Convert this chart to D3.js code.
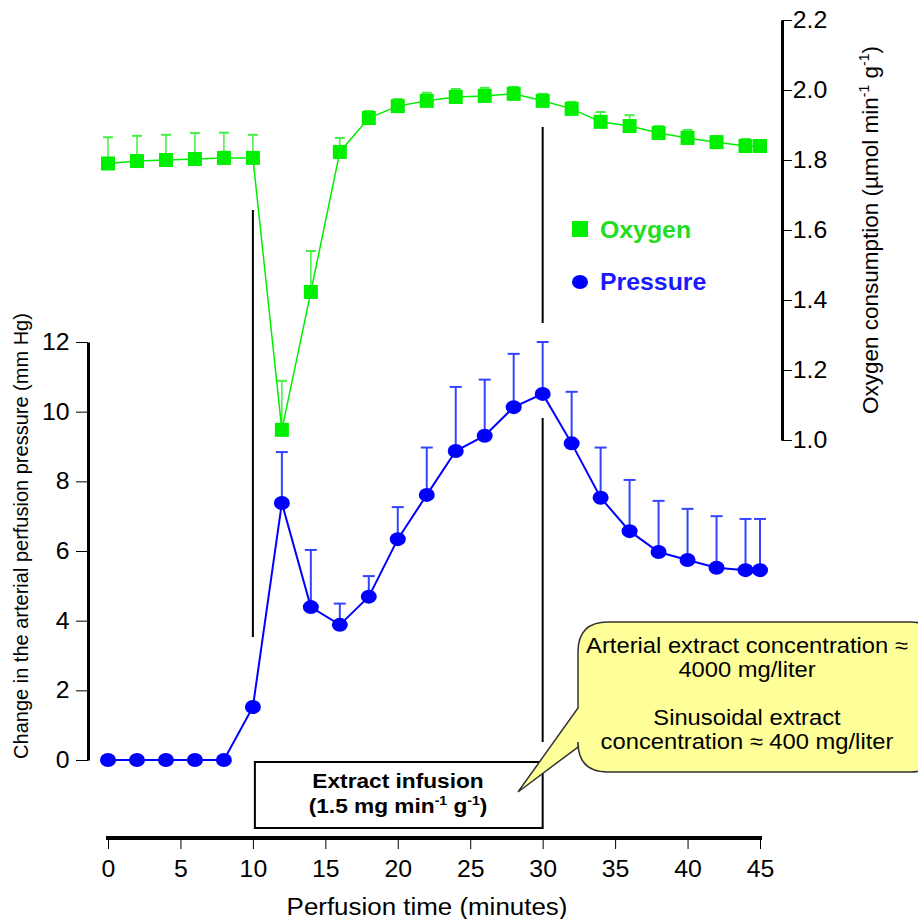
<!DOCTYPE html>
<html>
<head>
<meta charset="utf-8">
<script src="https://cdn.jsdelivr.net/npm/d3@7"></script>
<style>
  body { margin: 0; background: #fff; }
  text { font-family: "Liberation Sans", Arial, sans-serif; }
</style>
</head>
<body>
<div id="canvas"></div>
<script>
const width = 918;
const height = 919;

// perfusion time, minutes
const times = [0, 2, 4, 6, 8, 10, 12, 14, 16, 18, 20, 22, 24, 26, 28, 30, 32, 34, 36, 38, 40, 42, 44, 45];
// oxygen consumption (umol/min/g) and its SEM
const oxygen = [1.79, 1.797, 1.80, 1.803, 1.806, 1.806, 1.029, 1.423, 1.823, 1.92, 1.954, 1.969, 1.98, 1.983, 1.989, 1.969, 1.946, 1.909, 1.897, 1.877, 1.863, 1.851, 1.84, 1.84];
const oxygenErr = [0.075, 0.072, 0.072, 0.074, 0.072, 0.066, 0.14, 0.117, 0.04, 0.02, 0.02, 0.023, 0.023, 0.023, 0.02, 0.02, 0.02, 0.028, 0.031, 0.02, 0.023, 0.017, 0.02, 0.017];
// change in arterial perfusion pressure (mm Hg) and its SEM
const pressure = [0, 0, 0, 0, 0, 1.52, 7.38, 4.39, 3.88, 4.69, 6.34, 7.61, 8.87, 9.31, 10.13, 10.51, 9.09, 7.53, 6.57, 5.97, 5.74, 5.52, 5.45, 5.45];
const pressureErr = [0, 0, 0, 0, 0, 0, 1.46, 1.64, 0.61, 0.59, 0.92, 1.36, 1.84, 1.61, 1.53, 1.49, 1.48, 1.44, 1.47, 1.47, 1.47, 1.48, 1.47, 1.47];

const xTicks = [0, 5, 10, 15, 20, 25, 30, 35, 40, 45];
const pTicks = [0, 2, 4, 6, 8, 10, 12];
const oTicks = [1.0, 1.2, 1.4, 1.6, 1.8, 2.0, 2.2];

const infusionStart = 10;
const infusionEnd = 30;

const green = "#00ee00";
const blue = "#0000ff";
// the original type is a little wider than it is tall
const stretch = "scale(1.08,1)";

const svg = d3.select("#canvas")
    .append("svg")
    .attr("width", width)
    .attr("height", height);

const x = d3.scaleLinear().domain([0, 45]).range([108, 760]);
const yP = d3.scaleLinear().domain([0, 12]).range([760, 342]);
const yO = d3.scaleLinear().domain([1.0, 2.2]).range([440, 20]);

function label(px, py) {
    return svg.append("text").attr("transform", "translate(" + px + "," + py + ") " + stretch);
}

// x axis
const xAxis = svg.append("g")
    .attr("transform", "translate(0,838)")
    .call(d3.axisBottom(x).tickValues(xTicks).tickSize(11).tickPadding(12).tickSizeOuter(0));
xAxis.select(".domain").attr("stroke-width", 4).attr("d", "M106,0H762");
xAxis.selectAll(".tick line").attr("stroke-width", 1);
xAxis.selectAll(".tick text").attr("font-size", 23).attr("fill", "#000").attr("transform", stretch);

label(x(22.5) - 7, 915)
    .attr("text-anchor", "middle")
    .attr("font-size", 24)
    .text("Perfusion time (minutes)");

// left axis
const pAxis = svg.append("g")
    .attr("transform", "translate(88,0)")
    .call(d3.axisLeft(yP).tickValues(pTicks).tickSize(12).tickPadding(5).tickSizeOuter(0));
pAxis.select(".domain").attr("stroke-width", 3);
pAxis.selectAll(".tick line").attr("stroke-width", 1);
pAxis.selectAll(".tick text").attr("font-size", 23).attr("fill", "#000").attr("transform", stretch);

svg.append("text")
    .attr("transform", "translate(28,536) rotate(-90)")
    .attr("text-anchor", "middle")
    .attr("font-size", 20)
    .text("Change in the arterial perfusion pressure (mm Hg)");

// right axis
const oAxis = svg.append("g")
    .attr("transform", "translate(782,0)")
    .call(d3.axisRight(yO).tickValues(oTicks).tickFormat(d3.format(".1f")).tickSize(10).tickPadding(0).tickSizeOuter(0));
oAxis.select(".domain").attr("stroke-width", 3);
oAxis.selectAll(".tick line").attr("stroke-width", 1);
oAxis.selectAll(".tick text").attr("font-size", 23).attr("fill", "#000").attr("transform", stretch);

const oTitle = svg.append("text")
    .attr("transform", "translate(878,230) rotate(-90)")
    .attr("text-anchor", "middle")
    .attr("font-size", 22.5);
oTitle.append("tspan").text("Oxygen consumption (\u00b5mol min");
oTitle.append("tspan").attr("font-size", 14).attr("dy", -9).text("-1");
oTitle.append("tspan").attr("dy", 9).text(" g");
oTitle.append("tspan").attr("font-size", 14).attr("dy", -9).text("-1");
oTitle.append("tspan").attr("dy", 9).text(")");

// infusion markers
svg.append("line")
    .attr("x1", x(infusionStart)).attr("x2", x(infusionStart))
    .attr("y1", 210).attr("y2", 637)
    .attr("stroke", "#000").attr("stroke-width", 2);
svg.append("line")
    .attr("x1", x(infusionEnd)).attr("x2", x(infusionEnd))
    .attr("y1", 127).attr("y2", 323)
    .attr("stroke", "#000").attr("stroke-width", 2);
svg.append("line")
    .attr("x1", x(infusionEnd)).attr("x2", x(infusionEnd))
    .attr("y1", 418).attr("y2", 742)
    .attr("stroke", "#000").attr("stroke-width", 2);

// oxygen series
const oData = times.map((t, i) => ({t: t, v: oxygen[i], e: oxygenErr[i]}));
const oErr = svg.append("g");
oData.forEach(d => {
    oErr.append("line")
        .attr("x1", x(d.t)).attr("x2", x(d.t))
        .attr("y1", yO(d.v)).attr("y2", yO(d.v + d.e))
        .attr("stroke", "#44ee44").attr("stroke-width", 1.5);
    oErr.append("line")
        .attr("x1", x(d.t) - 5).attr("x2", x(d.t) + 5)
        .attr("y1", yO(d.v + d.e)).attr("y2", yO(d.v + d.e))
        .attr("stroke", "#44ee44").attr("stroke-width", 2);
});
svg.append("path")
    .datum(oData)
    .attr("fill", "none")
    .attr("stroke", green)
    .attr("stroke-width", 1.5)
    .attr("d", d3.line().x(d => x(d.t)).y(d => yO(d.v)));
svg.selectAll(".osq")
    .data(oData)
    .enter().append("rect")
    .attr("x", d => x(d.t) - 7)
    .attr("y", d => yO(d.v) - 7)
    .attr("width", 14)
    .attr("height", 14)
    .attr("fill", green);

// pressure series
const pData = times.map((t, i) => ({t: t, v: pressure[i], e: pressureErr[i]}));
const pErr = svg.append("g");
pData.filter(d => d.e > 0).forEach(d => {
    pErr.append("line")
        .attr("x1", x(d.t)).attr("x2", x(d.t))
        .attr("y1", yP(d.v)).attr("y2", yP(d.v + d.e))
        .attr("stroke", "#3344ff").attr("stroke-width", 2);
    pErr.append("line")
        .attr("x1", x(d.t) - 6).attr("x2", x(d.t) + 6)
        .attr("y1", yP(d.v + d.e)).attr("y2", yP(d.v + d.e))
        .attr("stroke", "#3344ff").attr("stroke-width", 2);
});
svg.append("path")
    .datum(pData)
    .attr("fill", "none")
    .attr("stroke", blue)
    .attr("stroke-width", 2)
    .attr("d", d3.line().x(d => x(d.t)).y(d => yP(d.v)));
svg.selectAll(".pdot")
    .data(pData)
    .enter().append("ellipse")
    .attr("cx", d => x(d.t))
    .attr("cy", d => yP(d.v))
    .attr("rx", 8)
    .attr("ry", 7)
    .attr("fill", blue);

// legend
svg.append("rect").attr("x", 572).attr("y", 221).attr("width", 16).attr("height", 16).attr("fill", green);
label(600, 238)
    .attr("font-size", 23).attr("font-weight", "bold").attr("fill", "#22dd22").text("Oxygen");
svg.append("ellipse").attr("cx", 580).attr("cy", 282).attr("rx", 8).attr("ry", 7).attr("fill", blue);
label(600, 290)
    .attr("font-size", 23).attr("font-weight", "bold").attr("fill", "#1a1aff").text("Pressure");

// infusion box
svg.append("rect")
    .attr("x", x(infusionStart) + 2).attr("y", 762)
    .attr("width", x(infusionEnd) - x(infusionStart) - 2).attr("height", 66)
    .attr("fill", "#fff").attr("stroke", "#000").attr("stroke-width", 2);
const boxText = label(398, 788)
    .attr("text-anchor", "middle")
    .attr("font-size", 21)
    .attr("font-weight", "bold");
boxText.append("tspan").attr("x", 0).attr("y", 0).text("Extract infusion");
const l2 = boxText.append("tspan").attr("x", 0).attr("y", 25);
l2.append("tspan").text("(1.5 mg min");
l2.append("tspan").attr("font-size", 13).attr("dy", -8).text("-1");
l2.append("tspan").attr("dy", 8).text(" g");
l2.append("tspan").attr("font-size", 13).attr("dy", -8).text("-1");
l2.append("tspan").attr("dy", 8).text(")");

// callout
const cx0 = 578, cy0 = 622, cx1 = 940, cy1 = 772, r = 30;
const callout = "M" + (cx0 + r) + "," + cy0 +
    "H" + (cx1 - r) + "Q" + cx1 + "," + cy0 + " " + cx1 + "," + (cy0 + r) +
    "V" + (cy1 - r) + "Q" + cx1 + "," + cy1 + " " + (cx1 - r) + "," + cy1 +
    "H" + (cx0 + r) + "Q" + cx0 + "," + cy1 + " " + cx0 + "," + (cy1 - r) +
    "V747L518,792L" + cx0 + ",708" +
    "V" + (cy0 + r) + "Q" + cx0 + "," + cy0 + " " + (cx0 + r) + "," + cy0 + "Z";
svg.append("path")
    .attr("d", callout)
    .attr("fill", "#ffff99")
    .attr("stroke", "#333")
    .attr("stroke-width", 1.5);
const cText = label(747, 653)
    .attr("text-anchor", "middle")
    .attr("font-size", 22);
[["Arterial extract concentration \u2248", 0], ["4000 mg/liter", 24],
 ["Sinusoidal extract", 72], ["concentration \u2248 400 mg/liter", 96]].forEach(l => {
    cText.append("tspan").attr("x", 0).attr("y", l[1]).text(l[0]);
});
</script>
</body>
</html>
